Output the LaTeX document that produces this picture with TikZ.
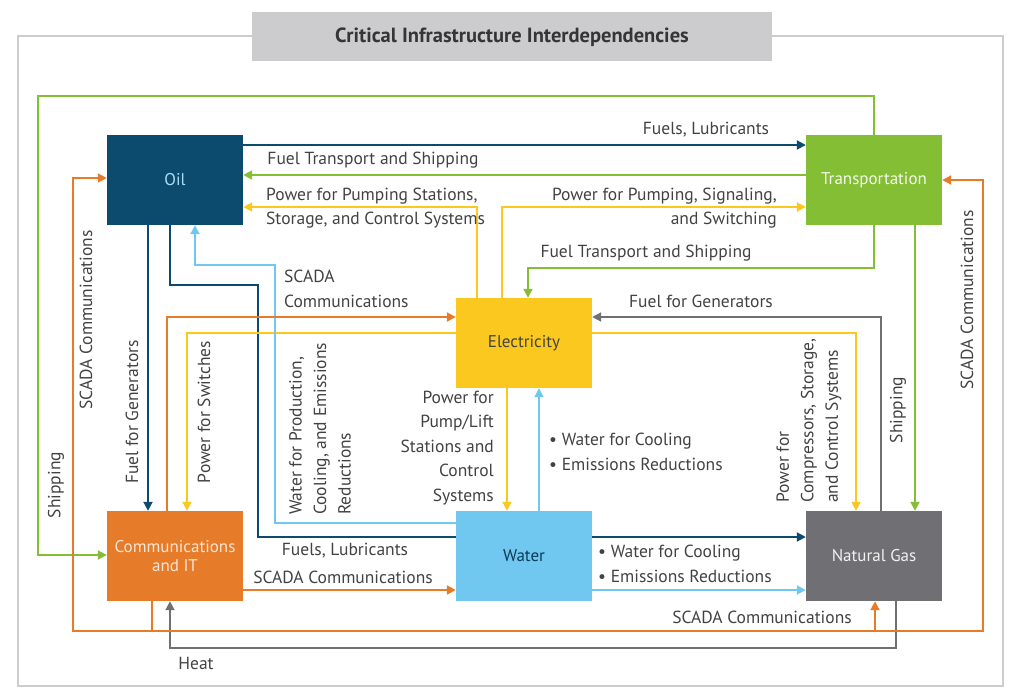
\documentclass[tikz,border=0pt]{standalone}
\usepackage{fontspec}
\setmainfont{PT Sans}
\usepackage{xcolor}
\usepackage{tikz}
\usetikzlibrary{arrows.meta,backgrounds}
\definecolor{oilblue}{RGB}{12, 74, 110}
\definecolor{transgreen}{RGB}{132, 190, 52}
\definecolor{elecyellow}{RGB}{250, 200, 30}
\definecolor{commorange}{RGB}{230, 124, 42}
\definecolor{waterblue}{RGB}{112, 200, 240}
\definecolor{gasgray}{RGB}{112, 112, 116}
\definecolor{textgray}{RGB}{66, 66, 66}
\definecolor{framegray}{RGB}{205, 205, 205}
\definecolor{titlegray}{RGB}{204, 204, 206}

\begin{document}
\begin{tikzpicture}[x=1pt, y=-1pt, >={Triangle[length=9pt,width=9pt]},
  sector/.style={minimum width=136pt, minimum height=90pt, inner sep=0pt, align=center,
    font=\fontsize{17}{19}\selectfont},
  flow/.style={line width=2pt, ->, line cap=rect},
  lbl/.style={text=textgray, inner sep=0pt, font=\fontsize{17.5}{24.5}\selectfont}]
  \useasboundingbox (0,0) rectangle (1011,695);

  % Sectors
  \node[sector, fill=oilblue, text=waterblue!60!white] (oil) at (175,180) {Oil};
  \node[sector, fill=transgreen, text=white!90!transgreen] (trans) at (874,180) {Transportation};
  \node[sector, fill=elecyellow, text=textgray] (elec) at (524,343) {Electricity};
  \node[sector, fill=commorange, text=white!80!commorange] (comm) at (175,556) {Communications\\and IT};
  \node[sector, fill=waterblue, text=oilblue!80!black] (water) at (524,556) {Water};
  \node[sector, fill=gasgray, text=white!90!gasgray] (gas) at (874,556) {Natural Gas};

  % Title
  \node[fill=titlegray, minimum width=520pt, minimum height=49pt, text=textgray!80!black,
    font=\fontsize{20.5}{22}\selectfont\bfseries] (title) at (512,37) {Critical Infrastructure Interdependencies};

  \begin{scope}[on background layer]
    % Frame
    \draw[framegray, line width=1.5pt] (18,36) rectangle (1003,686);

    % Oil links
    \draw[flow, oilblue] (oil.east |- 0,145) -- (trans.west |- 0,145);
    \draw[flow, oilblue] (oil.south -| 148,0) -- (comm.north -| 148,0);
    \draw[flow, oilblue] (oil.south -| 170,0) |- (258,285) |- (gas.west |- 0,537);

    % Transportation links
    \draw[flow, transgreen] (trans.west |- 0,175) -- (oil.east |- 0,175);
    \draw[flow, transgreen] (trans.south) -- ++(0,43) -| (elec.north -| 528,0);
    \draw[flow, transgreen] (trans.north) |- (38,96) |- (comm.west |- 0,555);
    \draw[flow, transgreen] (trans.south -| 915,0) -- (gas.north -| 915,0);

    % Electricity links
    \draw[flow, elecyellow] (elec.north -| 477,0) |- (oil.east |- 0,207);
    \draw[flow, elecyellow] (elec.north -| 502,0) |- (trans.west |- 0,207);
    \draw[flow, elecyellow] (elec.east |- 0,333) -| (gas.north -| 856,0);
    \draw[flow, elecyellow] (elec.west |- 0,333) -| (comm.north -| 187,0);
    \draw[flow, elecyellow] (elec.south -| 507,0) -- (water.north -| 507,0);

    % Natural gas links
    \draw[flow, gasgray] (gas.north -| 881,0) |- (elec.east |- 0,317);
    \draw[flow, gasgray] (gas.south -| 896,0) |- (170,648) -- (comm.south -| 170,0);

    % Water links
    \draw[flow, waterblue] (water.west |- 0,523) -| (275,265) -| (oil.south -| 195,0);
    \draw[flow, waterblue] (water.north -| 539,0) -- (elec.south -| 539,0);
    \draw[flow, waterblue] (water.east |- 0,590) -- (gas.west |- 0,590);

    % Communications links
    \coordinate (busL) at (73,631);
    \coordinate (busR) at (983,631);
    \draw[flow, commorange] (comm.north -| 167,0) |- (elec.west |- 0,317);
    \draw[flow, commorange] (comm.east |- 0,590) -- (water.west |- 0,590);
    \draw[line width=2pt, commorange] (comm.south -| 152,0) -- (152,631);
    \draw[flow, commorange] (busR) -- (busL) |- (oil.west |- 0,178);
    \draw[flow, commorange] (busR) |- (trans.east |- 0,180);
    \draw[flow, commorange] (875,631) -- (gas.south -| 875,0);
  \end{scope}

  % Labels
  \node[lbl] at (706,130) {Fuels, Lubricants};
  \node[lbl] at (373,160) {Fuel Transport and Shipping};
  \node[lbl, anchor=west, align=left] at (266,208) {Power for Pumping Stations,\\Storage, and Control Systems};
  \node[lbl, anchor=east, align=right] at (777,208) {Power for Pumping, Signaling,\\and Switching};
  \node[lbl] at (646,253) {Fuel Transport and Shipping};
  \node[lbl, anchor=west, align=left] at (284,289) {SCADA\\Communications};
  \node[lbl] at (701,301) {Fuel for Generators};
  \node[lbl, rotate=90] at (56,485) {Shipping};
  \node[lbl, rotate=90] at (86,320) {SCADA Communications};
  \node[lbl, rotate=90] at (132,412) {Fuel for Generators};
  \node[lbl, rotate=90] at (204,412) {Power for Switches};
  \node[lbl, rotate=90, anchor=west, align=left] at (320,515) {Water for Production,\\Cooling, and Emissions\\Reductions};
  \node[lbl, anchor=east, align=right] at (494,448) {Power for\\Pump/Lift\\Stations and\\Control\\Systems};
  \node[lbl, anchor=west, align=left] at (549,452) {\textbullet\ Water for Cooling\\\textbullet\ Emissions Reductions};
  \node[lbl, rotate=90, anchor=west, align=left] at (809,503) {Power for\\Compressors, Storage,\\and Control Systems};
  \node[lbl, rotate=90] at (898,410) {Shipping};
  \node[lbl, rotate=90] at (967,300) {SCADA Communications};
  \node[lbl] at (345,551) {Fuels, Lubricants};
  \node[lbl] at (343,577) {SCADA Communications};
  \node[lbl, anchor=west, align=left] at (598,564) {\textbullet\ Water for Cooling\\\textbullet\ Emissions Reductions};
  \node[lbl] at (762,617) {SCADA Communications};
  \node[lbl] at (196,663) {Heat};
\end{tikzpicture}
\end{document}
